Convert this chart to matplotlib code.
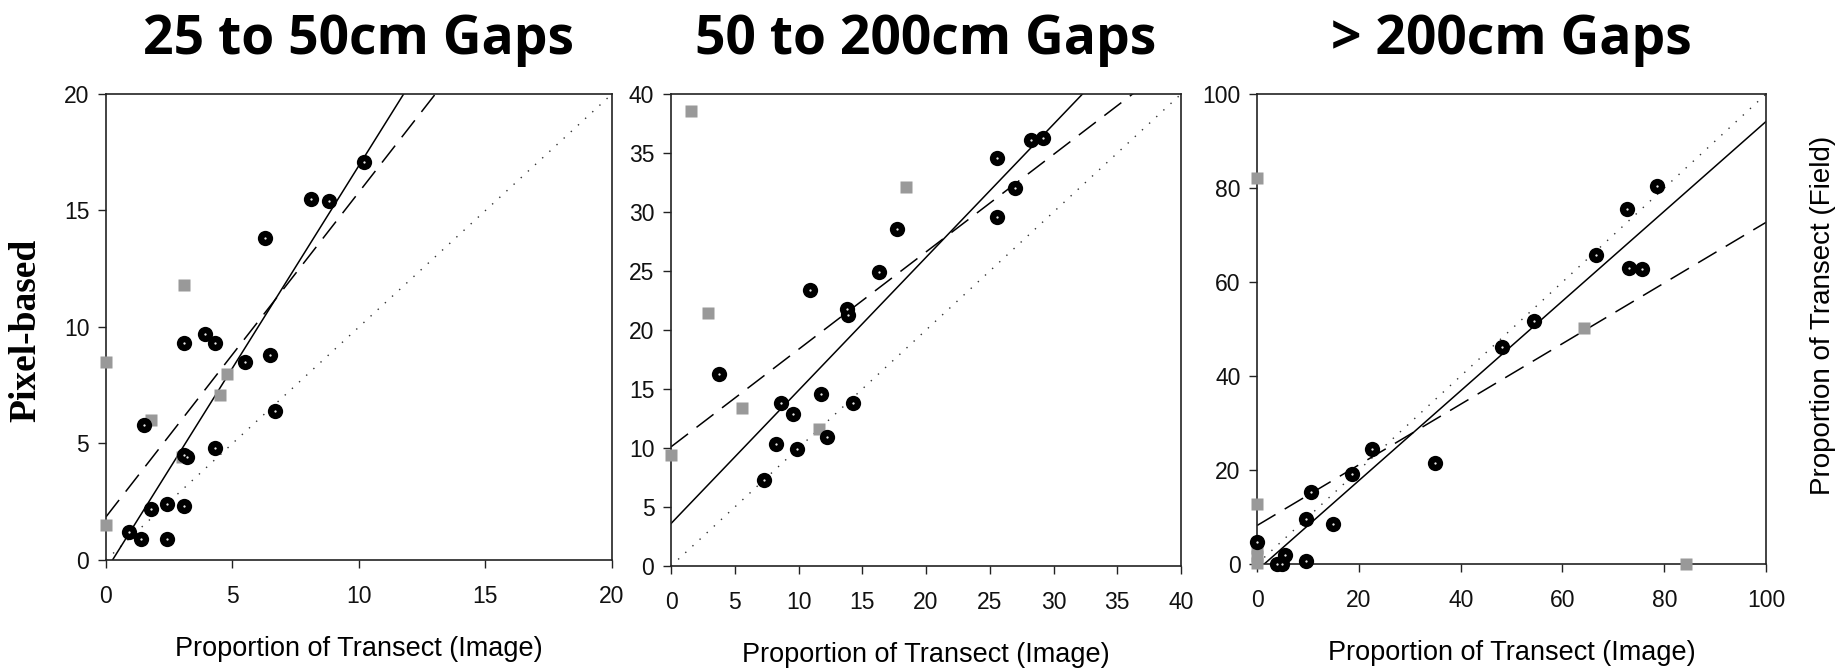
import numpy as np
import matplotlib.pyplot as plt

# ---- data ----
# panel 1: 25 to 50cm gaps
p1_circ_x = [10.2, 8.1, 8.8, 6.3, 3.9, 4.3, 3.1, 5.5, 6.5, 6.7, 1.5, 4.3, 3.1, 3.2, 1.8, 2.4, 3.1, 0.9, 1.4, 2.4]
p1_circ_y = [17.1, 15.5, 15.4, 13.8, 9.7, 9.3, 9.3, 8.5, 8.8, 6.4, 5.8, 4.8, 4.5, 4.4, 2.2, 2.4, 2.3, 1.2, 0.9, 0.9]
p1_sq_x = [3.1, 0.0, 4.8, 4.5, 1.8, 3.0, 0.0]
p1_sq_y = [11.8, 8.5, 8.0, 7.1, 6.0, 4.4, 1.5]
p1_solid = (1.738, -0.45)   # slope, intercept
p1_dash = (1.394, 1.85)

# panel 2: 50 to 200cm gaps
p2_circ_x = [25.6, 28.2, 29.2, 27.0, 25.6, 17.7, 16.3, 10.9, 13.8, 13.9, 3.8, 11.8, 8.6, 14.3, 9.6, 12.2, 8.2, 9.9, 7.3]
p2_circ_y = [34.6, 36.1, 36.3, 32.0, 29.6, 28.6, 24.9, 23.4, 21.8, 21.3, 16.3, 14.6, 13.8, 13.8, 12.9, 10.9, 10.3, 9.9, 7.3]
p2_sq_x = [1.6, 18.4, 2.9, 5.6, 11.6, 0.0]
p2_sq_y = [38.6, 32.1, 21.4, 13.4, 11.6, 9.4]
p2_solid = (1.128, 3.6)
p2_dash = (0.826, 10.1)

# panel 3: > 200cm gaps
p3_circ_x = [78.5, 72.7, 66.5, 73.0, 75.6, 54.5, 48.2, 22.6, 35.0, 18.6, 10.6, 9.7, 14.9, 9.7, 0.0, 5.4, 4.0, 4.8]
p3_circ_y = [80.5, 75.6, 65.8, 62.9, 62.7, 51.6, 46.2, 24.4, 21.5, 19.2, 15.4, 9.6, 8.5, 0.7, 4.6, 1.9, 0.0, 0.0]
p3_sq_x = [0.0, 0.0, 0.0, 0.0, 0.0, 64.3, 84.3]
p3_sq_y = [82.2, 12.8, 3.5, 1.8, 0.3, 50.2, 0.0]
p3_solid = (0.955, -1.34)
p3_dash = (0.645, 8.2)

titles = ['25 to 50cm Gaps', '50 to 200cm Gaps', '> 200cm Gaps']
limits = [20, 40, 100]
tick_steps = [5, 5, 20]

plt.rcParams['font.family'] = ['Liberation Sans', 'DejaVu Sans']

fig = plt.figure(figsize=(18.46, 6.70), dpi=100)
boxes = [[0.0574, 0.1642, 0.2741, 0.6955],
         [0.3635, 0.1552, 0.2763, 0.7045],
         [0.6810, 0.1582, 0.2757, 0.7015]]

panels = [
    (p1_circ_x, p1_circ_y, p1_sq_x, p1_sq_y, p1_solid, p1_dash),
    (p2_circ_x, p2_circ_y, p2_sq_x, p2_sq_y, p2_solid, p2_dash),
    (p3_circ_x, p3_circ_y, p3_sq_x, p3_sq_y, p3_solid, p3_dash),
]

gray = '#999999'
for i, (cx, cy, sx, sy, solid, dash) in enumerate(panels):
    ax = fig.add_axes(boxes[i])
    lim = limits[i]
    xs = np.array([0, lim])

    # 1:1 line, regression lines
    ax.plot(xs, xs, color='#333333', lw=1.0, linestyle=(0, (1, 6)))
    ax.plot(xs, solid[0] * xs + solid[1], color='black', lw=1.1)
    ax.plot(xs, dash[0] * xs + dash[1], color='black', lw=1.1, linestyle=(0, (14, 7)))

    ax.plot(sx, sy, 's', color=gray, ms=9.2, mec='none', clip_on=False, zorder=4)
    ax.plot(cx, cy, 'o', color='black', ms=11, mec='none', clip_on=False, zorder=5)
    ax.plot(cx, cy, '.', color='white', ms=1.2, clip_on=False, zorder=6)

    ax.set_xlim(0, lim)
    ax.set_ylim(0, lim)
    ax.set_xticks(np.arange(0, lim + 1, tick_steps[i]))
    ax.set_yticks(np.arange(0, lim + 1, tick_steps[i]))
    ax.tick_params(direction='out', length=6, width=1, labelsize=16.5, pad=6,
                   colors='#222222', labelcolor='#111111')
    ax.tick_params(axis='x', pad=12)
    for sp in ax.spines.values():
        sp.set_linewidth(1.2)
        sp.set_color('#222222')

    ax.set_xlabel('Proportion of Transect (Image)', fontsize=19.5, labelpad=20)

    cx_fig = boxes[i][0] + boxes[i][2] / 2
    fig.text(cx_fig, 0.94, titles[i], fontsize=38.5, fontweight='bold',
             family='Open Sans', ha='center', va='center')

fig.text(0.014, 0.507, 'Pixel-based', rotation=90, fontsize=27, fontweight='bold',
         family='Liberation Serif', ha='center', va='center')
fig.text(0.9875, 0.53, 'Proportion of Transect (Field)', rotation=90, fontsize=20,
         ha='center', va='center')

fig.savefig('out.png', dpi=100)
